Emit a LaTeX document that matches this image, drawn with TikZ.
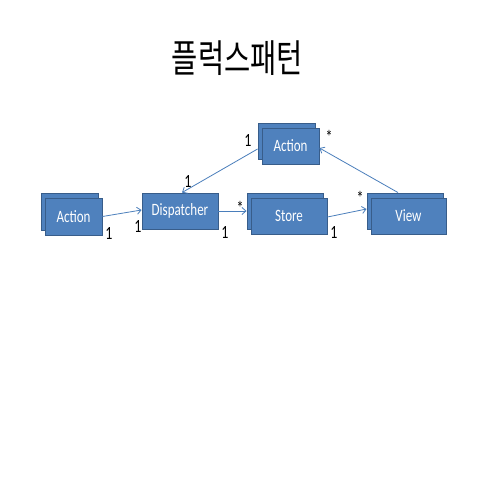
\documentclass[tikz,border=0pt]{standalone}
\usepackage{fontspec}
\setmainfont{Carlito}
\newfontfamily\krfont{Noto Sans CJK KR}
\usetikzlibrary{arrows.meta,calc}
\definecolor{boxfill}{HTML}{4F81BD}
\definecolor{boxline}{HTML}{385D8A}
\definecolor{lnk}{HTML}{4A7EBB}
\newcommand{\stretchy}[1]{\scalebox{1}[1.33]{#1}}
\tikzset{
  umlbox/.style={draw=boxline, fill=boxfill, line width=0.9pt, text=white,
    inner sep=0pt, font=\fontsize{13}{15}\selectfont},
  lnkarrow/.style={draw=lnk, line width=0.8pt, -{Straight Barb[length=4pt,width=7pt]}},
  mult/.style={inner sep=0pt, font=\fontsize{14}{16}\selectfont, text=black},
}
\begin{document}
\begin{tikzpicture}[x=1pt,y=-1pt]
\useasboundingbox[fill=white] (0,0) rectangle (480,480);
% title
\node[inner sep=0pt, font=\krfont\fontsize{28.5}{31}\selectfont] (title) at (237.5,58.5) {\scalebox{1}[1.35]{플럭스패턴}};
% left Action (stacked)
\node[umlbox, minimum width=57pt, minimum height=37pt] (actLb) at (69.5,211.5) {};
\node[umlbox, minimum width=57pt, minimum height=37pt] (actL) at (73.5,216.5) {\stretchy{Action}};
% Dispatcher
\node[umlbox, minimum width=76pt, minimum height=36pt] (disp) at (180,211) {\stretchy{Dispatcher}};
% Store (stacked)
\node[umlbox, minimum width=76pt, minimum height=36pt] (storeb) at (285,211) {};
\node[umlbox, minimum width=76pt, minimum height=36pt] (store) at (289,216) {\stretchy{Store}};
% top Action (stacked)
\node[umlbox, minimum width=57pt, minimum height=36pt] (actTb) at (286.5,141) {};
\node[umlbox, minimum width=57pt, minimum height=36pt] (actT) at (290.5,146) {\stretchy{Action}};
% View (stacked)
\node[umlbox, minimum width=76pt, minimum height=36pt] (viewb) at (405,211) {};
\node[umlbox, minimum width=75pt, minimum height=36pt] (view) at (408.5,216) {\stretchy{View}};
% connectors
\draw[lnkarrow] (actL.east) -- ($(disp.west)+(0,-1)$);
\draw[lnkarrow] (disp.east) -- (storeb.west);
\draw[lnkarrow] ($(store.east)+(0,1)$) -- ($(viewb.west)+(0,-2)$);
\draw[lnkarrow] ($(viewb.north)+(-7,0)$) -- ($(actT.east)+(0,2)$);
\draw[lnkarrow] ($(actTb.west)+(0,8)$) -- ($(disp.north)+(2,0)$);
% multiplicities
\node[mult] (m1) at (109,234) {\stretchy{1}};
\node[mult] (m2) at (138,227) {\stretchy{1}};
\node[mult] (m3) at (188,182) {\stretchy{1}};
\node[mult] (m4) at (248,141) {\stretchy{1}};
\node[mult] (m5) at (225,233) {\stretchy{1}};
\node[mult] (m6) at (334,233) {\stretchy{1}};
\node[mult] (s1) at (240,208) {\stretchy{*}};
\node[mult] (s2) at (329,137) {\stretchy{*}};
\node[mult] (s3) at (360,198) {\stretchy{*}};
\end{tikzpicture}
\end{document}
